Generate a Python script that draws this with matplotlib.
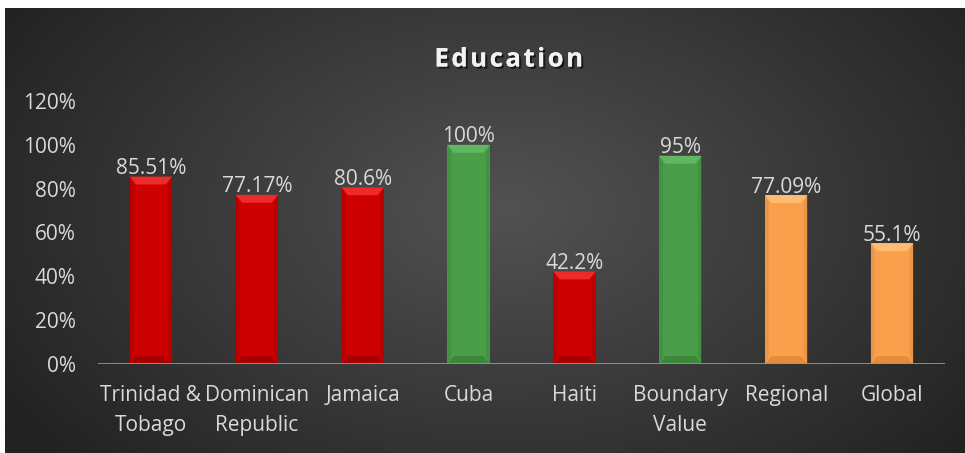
import numpy as np
import matplotlib
matplotlib.use("Agg")
import matplotlib.pyplot as plt
from matplotlib.patches import Polygon
import matplotlib.patheffects as pe

categories = ["Trinidad &\nTobago", "Dominican\nRepublic", "Jamaica", "Cuba",
              "Haiti", "Boundary\nValue", "Regional", "Global"]
values = [85.51, 77.17, 80.6, 100, 42.2, 95, 77.09, 55.1]
labels = ["85.51%", "77.17%", "80.6%", "100%", "42.2%", "95%", "77.09%", "55.1%"]
groups = ["country", "country", "country", "target", "country", "target", "avg", "avg"]
yticks = [0, 20, 40, 60, 80, 100, 120]

palette = {
    "country": ("#cc0000", "#ee2a2a", "#a80000"),
    "target": ("#4a9e4a", "#62b862", "#3b873b"),
    "avg": ("#f9a04c", "#ffbb70", "#e58c3c"),
}

W, H, DPI = 9.65, 4.53, 100
fig = plt.figure(figsize=(W, H), dpi=DPI, facecolor="white")

# dark chart area with radial gradient
bg = fig.add_axes([5 / 965, 0, 1 - 5 / 965, 1 - 8 / 453])
ny, nx = 300, 640
yy, xx = np.mgrid[0:ny, 0:nx]
cx, cy = nx * 0.52, ny * 0.45
r = np.sqrt(((xx - cx) / (nx * 0.62)) ** 2 + ((yy - cy) / (ny * 0.85)) ** 2)
r = np.clip(r, 0, 1)
lo, hi = np.array([0x22, 0x22, 0x22]) / 255, np.array([0x52, 0x52, 0x52]) / 255
img = hi[None, None, :] * (1 - r[..., None]) + lo[None, None, :] * r[..., None]
bg.imshow(img, aspect="auto", extent=[0, 1, 0, 1], interpolation="bilinear")
bg.set_axis_off()

# plotting axes
left, right = 98 / 965, 945 / 965
bottom, top = 1 - 364 / 453, 1 - 101 / 453
ax = fig.add_axes([left, bottom, right - left, top - bottom])
ax.patch.set_alpha(0)
x = np.arange(len(categories))
bw = 0.4
colors = [palette[g][0] for g in groups]
bars = ax.bar(x, values, width=bw, color=colors, zorder=3)

ax.set_xlim(-0.5, len(categories) - 0.5)
ax.set_ylim(0, 120)

# bevel highlights on each bar
bevel_y = 3.6
bevel_x = 0.06
for b, g in zip(bars, groups):
    _, light, dark = palette[g]
    x0, w, h = b.get_x(), b.get_width(), b.get_height()
    x1 = x0 + w
    by = min(bevel_y, h / 3)
    ax.add_patch(Polygon([[x0, h], [x1, h], [x1 - bevel_x, h - by], [x0 + bevel_x, h - by]],
                         closed=True, facecolor=light, edgecolor="none", zorder=4))
    ax.add_patch(Polygon([[x0, 0], [x1, 0], [x1 - bevel_x, by], [x0 + bevel_x, by]],
                         closed=True, facecolor=dark, edgecolor="none", zorder=4))
    ax.add_patch(Polygon([[x0, 0], [x0 + bevel_x * 0.6, by], [x0 + bevel_x * 0.6, h - by], [x0, h]],
                         closed=True, facecolor=dark, edgecolor="none", alpha=0.5, zorder=4))
    ax.add_patch(Polygon([[x1, 0], [x1 - bevel_x * 0.6, by], [x1 - bevel_x * 0.6, h - by], [x1, h]],
                         closed=True, facecolor=dark, edgecolor="none", alpha=0.5, zorder=4))

font = ["Open Sans", "DejaVu Sans"]
txt = "#d9d9d9"
fs = 15
for xi, v, lab in zip(x, values, labels):
    ax.text(xi, v - 1.2, lab, ha="center", va="bottom", color=txt,
            fontsize=fs, family=font, zorder=5)

ax.axhline(0, color="#8a9c88", lw=2, zorder=6)
for s in ax.spines.values():
    s.set_visible(False)
ax.set_yticks(yticks)
ax.set_yticklabels([f"{t}%" for t in yticks], color=txt, fontsize=fs, family=font)
ax.set_xticks(x)
ax.set_xticklabels(categories, color=txt, fontsize=fs, family=font, linespacing=1.55)
ax.tick_params(axis="both", length=0)
ax.tick_params(axis="y", pad=16)
ax.tick_params(axis="x", pad=15)

fig.text(509 / 965, 1 - 59 / 453, "\u200a".join("Education"), ha="center", va="center",
         color="#f2f2f2", fontsize=18.5, fontweight="bold", family=font,
         path_effects=[pe.withSimplePatchShadow(offset=(1.5, -1.5), shadow_rgbFace="black", alpha=0.6),
                       pe.Normal()])

fig.savefig("out.png", dpi=DPI, facecolor="white")
